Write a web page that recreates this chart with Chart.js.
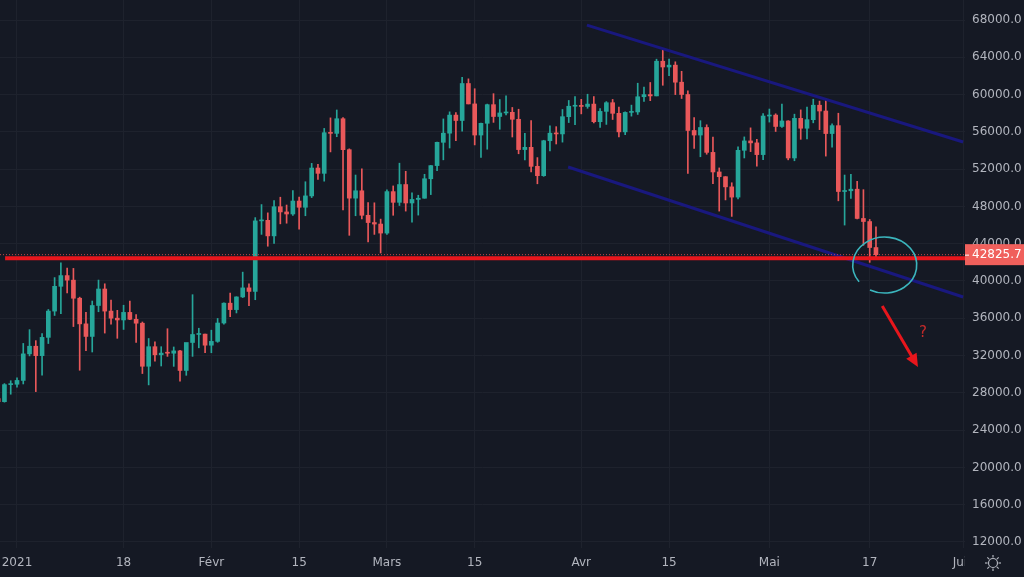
<!DOCTYPE html>
<html lang="fr">
<head>
  <meta charset="UTF-8">
  <title>BTC daily</title>
  <script src="https://cdn.jsdelivr.net/npm/chart.js@4.4.1/dist/chart.umd.min.js"></script>
  <style>
    * { margin: 0; padding: 0; box-sizing: border-box; }
    html, body { width: 1024px; height: 577px; background: #151924; overflow: hidden; }
    #wrap { position: relative; width: 1024px; height: 577px; }
  </style>
</head>
<body>
  <div id="wrap"><canvas id="chart"></canvas></div>

  <script>
    // day 0 = 1 Jan 2021, first candle = 29 Dec 2020
    const firstDay = -3;

    const openP = [
      27385, 27050, 28880,
      28920, 29330, 32180, 33000, 31990, 33950, 36770, 39430, 40580, 40090, 38150, 35400, 34050, 37370, 39140, 36770,
      36010, 35820, 36630, 35890, 35470, 30850, 32950, 32080, 32260, 32250, 32500, 30400, 33400, 34260, 34300,
      33110, 33520, 35490, 37620, 36930, 38290, 39260, 38880, 46450, 46510, 44840, 47970, 47410, 47190, 48580, 47910,
      49130, 52120, 51550, 55910, 55840, 57410, 54090, 48890, 49680, 47050, 46270, 46110,
      45140, 49590, 48440, 50350, 48370, 48750, 48880, 50970, 52380, 54880, 55860, 57800, 57220, 61190, 59000, 55660,
      56920, 58920, 57650, 58030, 58100, 57350, 54100, 54340, 52300, 51300, 55050, 55860, 55780, 57630, 58750,
      58800, 58730, 58980, 57090, 58200, 59130, 57990, 56000, 58090, 58140, 59770, 60000, 59860, 63580, 62960, 63160,
      61330, 60010, 56150, 55660, 56470, 53800, 51700, 51190, 50100, 49000, 54020, 55030, 54820, 53560,
      57700, 57800, 56580, 57170, 53200, 57450, 56390, 57310, 58860, 58240, 55820, 56670, 49600, 49680, 49850, 46710,
      46380, 43590
    ];
    const highP = [
      27410, 28990, 29300,
      29600, 33300, 34780, 33600, 34360, 36940, 40365, 41950, 41380, 41350, 38265, 36630, 37850, 40100, 39700, 37950,
      36850, 37400, 37850, 36400, 35600, 33830, 33460, 32950, 34880, 32920, 32550, 31990, 38530, 34930, 34300,
      34720, 35980, 37660, 38710, 38310, 40950, 39700, 46800, 48200, 47310, 48630, 48990, 48150, 49710, 49000, 50650,
      52620, 52530, 56370, 57500, 58350, 57530, 54180, 51370, 52040, 48420, 48390, 46640,
      49790, 50200, 52640, 51770, 49450, 49200, 51450, 52400, 54900, 57390, 58150, 58060, 61840, 61690, 60630, 56950,
      58980, 60100, 59470, 59880, 58620, 58430, 55840, 57200, 53240, 55100, 56640, 56560, 58400, 59370, 59800,
      59490, 60040, 59790, 58500, 59250, 59480, 58650, 58150, 58870, 61220, 60800, 61300, 63800, 64850, 63800, 63520,
      62500, 60400, 57530, 57200, 56760, 55450, 52130, 51200, 50540, 54400, 55460, 56430, 55200, 57960,
      58450, 57940, 58980, 57200, 57900, 58360, 58650, 59500, 59300, 59600, 56870, 58000, 51370, 51440, 50700, 49800,
      46600, 45800
    ];
    const lowP = [
      25880, 27000, 27850,
      28620, 28950, 31960, 28130, 29900, 33290, 36300, 36500, 38720, 35111, 30420, 32530, 32380, 36700, 34410, 35360,
      33850, 34800, 35850, 33400, 30070, 28850, 31390, 30880, 31910, 30840, 29240, 29880, 31910, 32830, 32300,
      32300, 33420, 35360, 36160, 36570, 38220, 37350, 37990, 45000, 43730, 44040, 46130, 46200, 47030, 45570, 47000,
      48950, 50900, 50710, 53850, 55480, 47620, 44900, 47000, 46670, 44180, 45000, 43000,
      45000, 47050, 48100, 47500, 46300, 47070, 48880, 49270, 51850, 53000, 54270, 55050, 56080, 59000, 54600, 53270,
      54140, 57020, 56280, 57820, 55450, 53650, 53000, 51700, 50430, 51230, 53960, 54700, 54900, 57000, 56770,
      57930, 58530, 56960, 56480, 56800, 57330, 55470, 55700, 57690, 57870, 59260, 59350, 59860, 61000, 62020, 60000,
      59580, 51540, 54220, 53330, 53600, 50450, 47500, 48700, 46930, 48800, 53200, 53880, 52330, 53010,
      57050, 56040, 56480, 53000, 52900, 55200, 55240, 56970, 56240, 53400, 54370, 48600, 46000, 48860, 46660, 43830,
      42000, 42370
    ];
    const closeP = [
      27050, 28880, 28920,
      29330, 32180, 33000, 31990, 33950, 36770, 39430, 40580, 40090, 38150, 35400, 34050, 37370, 39140, 36770, 36010,
      35820, 36630, 35890, 35470, 30850, 32950, 32080, 32260, 32250, 32500, 30400, 33400, 34260, 34300, 33110,
      33520, 35490, 37620, 36930, 38290, 39260, 38880, 46450, 46510, 44840, 47970, 47410, 47190, 48580, 47910, 49130,
      52120, 51550, 55910, 55840, 57410, 54090, 48890, 49680, 47050, 46270, 46110, 45140,
      49590, 48440, 50350, 48370, 48750, 48880, 50970, 52380, 54880, 55860, 57800, 57220, 61190, 59000, 55660, 56920,
      58920, 57650, 58030, 58100, 57350, 54100, 54340, 52300, 51300, 55050, 55860, 55780, 57630, 58750, 58800,
      58730, 58980, 57090, 58200, 59130, 57990, 56000, 58090, 58140, 59770, 60000, 59860, 63580, 62960, 63160, 61330,
      60010, 56150, 55660, 56470, 53800, 51700, 51190, 50100, 49000, 54020, 55030, 54820, 53560, 57700,
      57800, 56580, 57170, 53200, 57450, 56390, 57310, 58860, 58240, 55820, 56670, 49600, 49680, 49850, 46710, 46380,
      43590, 42825.7
    ];

    const lastPrice = 42825.7;
    const supportLevel = 42450;
    // hand drawn channel, [day, price]
    const channelTop = [[90.9, 67460], [150.9, 54910]];
    const channelBottom = [[87.9, 52230], [150.9, 38280]];
    const arrowPts = [[138.0, 37310], [143.7, 30770]];
    const questionAt = [144.5, 34420];
    const circleAt = [138.4, 41710];

    const dateTicks = [0, 17, 31, 45, 59, 73, 90, 104, 120, 136, 151];
    const dateLabels = ['2021', '18', 'Févr', '15', 'Mars', '15', 'Avr', '15', 'Mai', '17', 'Juin'];
    const priceTicks = [12000, 16000, 20000, 24000, 28000, 32000, 36000, 40000, 44000, 48000, 52000, 56000, 60000, 64000, 68000];

    const UP = '#26a69a';
    const DOWN = '#e9585a';
    const TXT = '#b2b5be';
    const GRID = '#1e222d';

    const bodies = openP.map((o, i) => ({ x: firstDay + i, y: [o, closeP[i]] }));
    const wicks = openP.map((o, i) => ({ x: firstDay + i, y: [lowP[i], highP[i]] }));
    const colors = openP.map((o, i) => closeP[i] >= o ? UP : DOWN);

    const xMin = -2.71, xMax = 151.2;

    function noPad(s) {
      s.paddingTop = 0; s.paddingBottom = 0; s.paddingLeft = 0; s.paddingRight = 0;
    }

    const overlay = {
      id: 'overlay',
      beforeDraw(chart) {
        const c = chart.ctx;
        c.save();
        c.fillStyle = '#151924';
        c.fillRect(0, 0, chart.width, chart.height);
        c.restore();
      },
      afterDatasetsDraw(chart) {
        const c = chart.ctx;
        const xs = chart.scales.x, ys = chart.scales.y;
        c.save();
        // circle around the last candles
        const cx = xs.getPixelForValue(circleAt[0]), cy = ys.getPixelForValue(circleAt[1]);
        c.strokeStyle = '#3bb5bd';
        c.lineWidth = 1.6;
        c.beginPath();
        c.ellipse(cx, cy, 32, 28, 0, 2.5, 2.5 + Math.PI * 2 - 0.45);
        c.stroke();

        // arrow
        const ax = xs.getPixelForValue(arrowPts[0][0]), ay = ys.getPixelForValue(arrowPts[0][1]);
        const bx = xs.getPixelForValue(arrowPts[1][0]), by = ys.getPixelForValue(arrowPts[1][1]);
        const ang = Math.atan2(by - ay, bx - ax);
        c.strokeStyle = '#e8161c';
        c.fillStyle = '#e8161c';
        c.lineWidth = 3;
        c.beginPath();
        c.moveTo(ax, ay);
        c.lineTo(bx - 8 * Math.cos(ang), by - 8 * Math.sin(ang));
        c.stroke();
        c.beginPath();
        c.moveTo(bx, by);
        c.lineTo(bx - 13 * Math.cos(ang) + 6 * Math.sin(ang), by - 13 * Math.sin(ang) - 6 * Math.cos(ang));
        c.lineTo(bx - 13 * Math.cos(ang) - 6 * Math.sin(ang), by - 13 * Math.sin(ang) + 6 * Math.cos(ang));
        c.closePath();
        c.fill();

        c.fillStyle = '#c42a2a';
        c.font = '15px "DejaVu Sans"';
        c.textAlign = 'center';
        c.textBaseline = 'middle';
        c.fillText('?', xs.getPixelForValue(questionAt[0]), ys.getPixelForValue(questionAt[1]));
        c.restore();
      },
      afterDraw(chart) {
        const c = chart.ctx;
        const ys = chart.scales.y;
        const area = chart.chartArea;
        c.save();
        // price scale corner
        c.fillStyle = '#151924';
        c.fillRect(area.right, area.bottom, chart.width - area.right, chart.height - area.bottom);

        // last price label
        const py = ys.getPixelForValue(lastPrice);
        c.fillStyle = '#f0605c';
        c.fillRect(area.right, py - 10.5, chart.width - area.right, 21);
        c.strokeStyle = '#ffffff';
        c.lineWidth = 1;
        c.beginPath();
        c.moveTo(area.right, py + 0.5);
        c.lineTo(area.right + 4, py + 0.5);
        c.stroke();
        c.fillStyle = '#ffffff';
        c.font = '12px "DejaVu Sans"';
        c.textAlign = 'left';
        c.textBaseline = 'middle';
        c.fillText(lastPrice.toFixed(1), area.right + 7, py);

        // settings gear
        const gx = 993, gy = 563;
        c.strokeStyle = TXT;
        c.lineWidth = 1.2;
        c.beginPath();
        c.arc(gx, gy, 4.5, 0, Math.PI * 2);
        c.stroke();
        for (let k = 0; k < 8; k++) {
          const a = k * Math.PI / 4;
          c.beginPath();
          c.moveTo(gx + 5.5 * Math.cos(a), gy + 5.5 * Math.sin(a));
          c.lineTo(gx + 8 * Math.cos(a), gy + 8 * Math.sin(a));
          c.stroke();
        }
        c.restore();
      }
    };

    new Chart(document.getElementById('chart'), {
      type: 'bar',
      data: {
        datasets: [
          {
            type: 'line', label: 'support', order: 0,
            data: [{ x: -1.9, y: supportLevel }, { x: xMax, y: supportLevel }],
            borderColor: '#e8161c', borderWidth: 4, pointRadius: 0
          },
          {
            type: 'line', label: 'last', order: 0,
            data: [{ x: xMin, y: lastPrice }, { x: xMax, y: lastPrice }],
            borderColor: 'rgba(239,83,80,0.8)', borderWidth: 1, borderDash: [1, 2], pointRadius: 0
          },
          {
            type: 'line', label: 'channel top', order: 0,
            data: channelTop.map(p => ({ x: p[0], y: p[1] })),
            borderColor: '#19187e', borderWidth: 3, pointRadius: 0
          },
          {
            type: 'line', label: 'channel bottom', order: 0,
            data: channelBottom.map(p => ({ x: p[0], y: p[1] })),
            borderColor: '#19187e', borderWidth: 3, pointRadius: 0
          },
          {
            label: 'body', order: 1, grouped: false,
            data: bodies, backgroundColor: colors,
            barThickness: 4, minBarLength: 1, borderWidth: 0
          },
          {
            label: 'wick', order: 2, grouped: false,
            data: wicks, backgroundColor: colors,
            barThickness: 1, borderWidth: 0
          }
        ]
      },
      options: {
        responsive: true,
        maintainAspectRatio: false,
        animation: false,
        layout: { padding: 0 },
        plugins: { legend: { display: false }, tooltip: { enabled: false } },
        scales: {
          x: {
            type: 'linear',
            min: xMin, max: xMax,
            offset: false,
            afterBuildTicks: s => { s.ticks = dateTicks.map(v => ({ value: v })); },
            afterFit: s => { s.height = 29; noPad(s); },
            ticks: {
              autoSkip: false, maxRotation: 0, padding: 8,
              color: TXT, font: { family: 'DejaVu Sans', size: 12 },
              callback: v => dateLabels[dateTicks.indexOf(v)]
            },
            grid: { color: GRID, drawTicks: false, offset: false },
            border: { display: false }
          },
          y: {
            type: 'linear',
            position: 'right',
            min: 11350, max: 70150,
            afterBuildTicks: s => { s.ticks = priceTicks.map(v => ({ value: v })); },
            afterFit: s => { s.width = 59; noPad(s); },
            ticks: {
              padding: 7, color: TXT, font: { family: 'DejaVu Sans', size: 12 },
              callback: v => v.toFixed(1)
            },
            grid: { color: GRID, drawTicks: false },
            border: { display: false }
          }
        }
      },
      plugins: [overlay]
    });
  </script>
</body>
</html>
